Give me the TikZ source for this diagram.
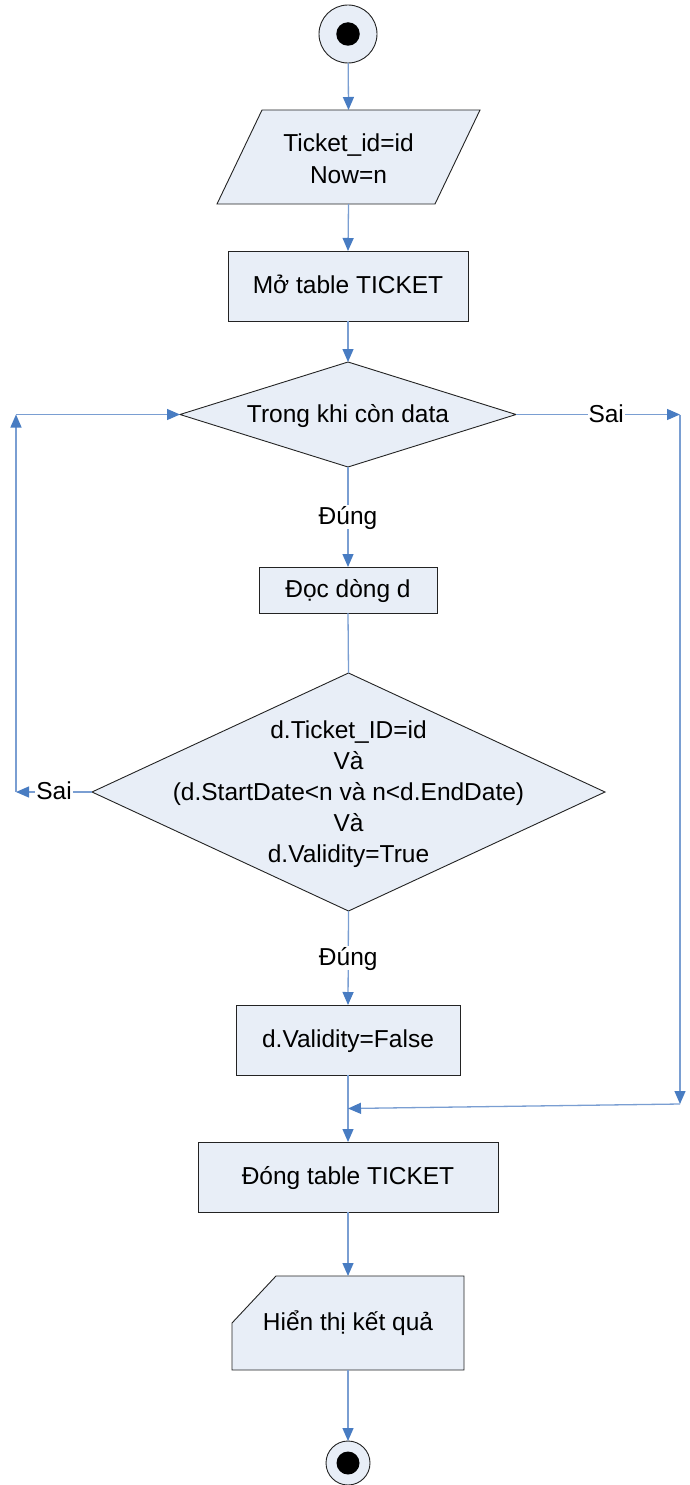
\documentclass[tikz,border=0pt]{standalone}
\usepackage{fontspec}
\setmainfont{Liberation Sans}
\usetikzlibrary{arrows.meta,shapes.geometric}
\definecolor{boxfill}{RGB}{232,238,247}
\definecolor{boxedge}{RGB}{35,35,35}
\definecolor{flowline}{RGB}{122,158,210}
\definecolor{flowtip}{RGB}{72,124,194}

\begin{document}
\begin{tikzpicture}[x=1pt,y=-1pt,
  txt/.style={font=\fontsize{24.5}{32}\selectfont, align=center},
  oneline/.style={text height=19pt, text depth=3.5pt},
  shapebox/.style={draw=boxedge, fill=boxfill, line width=0.9pt, inner sep=0pt, outer sep=0pt, txt},
  frame/.style={inner sep=0pt, outer sep=0pt, txt},
  outline/.style={draw=boxedge, fill=boxfill, line width=0.9pt},
  flow/.style={draw=flowline, line width=1.3pt},
  tip/.style={-{Triangle[length=13pt,width=11pt,color=flowtip]}},
  lbl/.style={fill=white, inner sep=1pt, txt, oneline},
  dot/.style={circle, fill=black, draw=none, inner sep=0pt}
]
\useasboundingbox (0,0) rectangle (690,1485);

% start
\node[shapebox, circle, minimum size=58pt] (start) at (348,34) {};
\node[dot, minimum size=23.5pt] (startdot) at (start) {};

% input parallelogram (frame node gives the anchors, the slanted outline is drawn round it)
\node[frame, minimum width=218pt, minimum height=94pt] (io) at (348.5,157) {};
\path[outline] ([xshift=22.5pt]io.north west) -- ([xshift=22.5pt]io.north east)
  -- ([xshift=-22.5pt]io.south east) -- ([xshift=-22.5pt]io.south west) -- cycle;
\node[frame] (iotext) at ([yshift=-2pt]io.center) {Ticket\_id=id\\Now=n};

% open table
\node[shapebox, oneline, minimum width=240pt, minimum height=70pt] (open) at (348,286) {Mở table TICKET};

% while loop
\node[shapebox, oneline, diamond, aspect=3.2, minimum width=336pt, minimum height=105pt] (d1) at (348,414.5) {Trong khi còn data};

% read row
\node[shapebox, oneline, minimum width=178pt, minimum height=46pt] (read) at (348,590) {Đọc dòng d};

% condition
\node[shapebox, diamond, minimum width=513pt, minimum height=238pt] (d2) at (348.5,792) {};
\node[frame, font=\fontsize{24.5}{31}\selectfont] (d2text) at ([yshift=-2pt]d2.center) {d.Ticket\_ID=id\\Và\\(d.StartDate<n và n<d.EndDate)\\Và\\d.Validity=True};

% update
\node[shapebox, oneline, minimum width=224pt, minimum height=70pt] (upd) at (348,1040) {d.Validity=False};

% close table
\node[shapebox, oneline, minimum width=300pt, minimum height=70pt] (close) at (348,1177) {Đóng table TICKET};

% display card with cut corner
\node[frame, minimum width=232pt, minimum height=94pt] (show) at (348,1323) {};
\path[outline] ([xshift=44pt]show.north west) -- (show.north east) -- (show.south east)
  -- (show.south west) -- ([yshift=-47pt]show.north west) -- cycle;
\node[frame, oneline] (showtext) at (show) {Hiển thị kết quả};

% end
\node[shapebox, circle, minimum size=44pt] (stop) at (348,1463) {};
\node[dot, minimum size=23pt] (stopdot) at (stop) {};

% loop corners
\coordinate (lb) at (16,792);
\coordinate (lt) at (16,414.5);
\coordinate (rt) at (680,414.5);
\coordinate (rb) at (680,1104);
\coordinate (mj) at (348,1108.5);

% main flow
\draw[flow,tip] (start) -- (io.north);
\draw[flow,tip] (io.south) -- (open.north);
\draw[flow,tip] (open.south) -- (d1.north);
\draw[flow,tip] (d1.south) -- node[lbl] {Đúng} (read.north);
\draw[flow] (read.south) -- (d2.north);
\draw[flow,tip] (d2.south) -- node[lbl] {Đúng} (upd.north);
\draw[flow,tip] (upd.south) -- (close.north);
\draw[flow,tip] (close.south) -- (show.north);
\draw[flow,tip] (show.south) -- (stop.north);

% back to the loop test
\draw[flow,tip] (d2.west) -- node[lbl,pos=0.5] {Sai} (lb);
\draw[flow,tip] (lb) -- (lt);
\draw[flow,tip] (lt) -- (d1.west);

% loop exit
\draw[flow,tip] (d1.east) -- node[lbl,pos=0.55] {Sai} (rt);
\draw[flow,tip] (rt) -- (rb);
\draw[flow,tip] (rb) -- (mj);
\end{tikzpicture}
\end{document}
